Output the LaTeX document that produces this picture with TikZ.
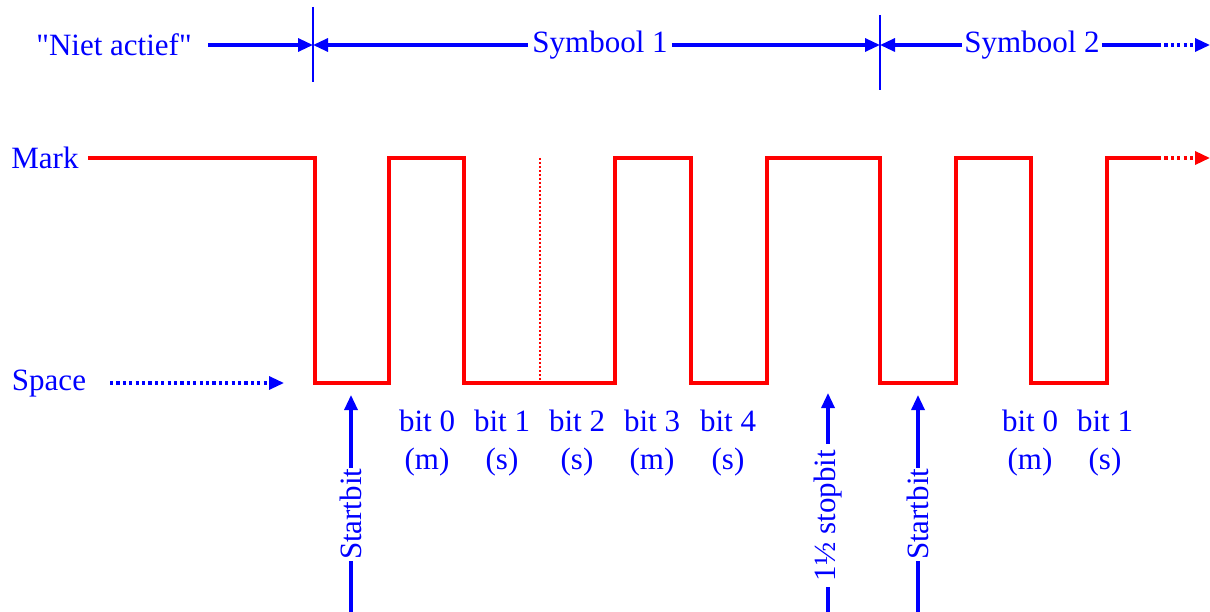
\documentclass[tikz,border=0pt]{standalone}
\usepackage{fontspec}
\setmainfont{Liberation Serif}[Ligatures=TeXOff]
\usetikzlibrary{arrows.meta}
\definecolor{myblue}{RGB}{0,0,255}
\definecolor{myred}{RGB}{255,0,0}
\begin{document}
\begin{tikzpicture}[x=1pt,y=-1pt,
  lbl/.style={text=myblue,font=\fontsize{31}{36}\selectfont,inner sep=0pt},
  bline/.style={draw=myblue,line width=3.2pt},
  dots/.style={dash pattern=on 3.2pt off 3.2pt},
  tick/.style={draw=myblue,line width=1.8pt},
  rline/.style={draw=myred,line width=3.4pt},
  tipb/.style={-{Triangle[length=15pt,width=13pt]}},
  tipbl/.style={{Triangle[length=15pt,width=13pt]}-},
  rot/.style={lbl,rotate=90,fill=white}]
\useasboundingbox (0,0) rectangle (1210,612);

% top ticks
\coordinate (t1a) at (313,7); \coordinate (t1b) at (313,82);
\coordinate (t2a) at (880,15); \coordinate (t2b) at (880,90);
\draw[tick] (t1a) -- (t1b);
\draw[tick] (t2a) -- (t2b);
\coordinate (t1) at (313,45);
\coordinate (t2) at (880,45);

% top labels
\node[lbl] (na) at (114,45) {"Niet actief"};
\node[lbl,inner xsep=4pt] (s1) at (600,45) {Symbool 1};
\node[lbl,inner xsep=2pt] (s2) at (1032,45) {Symbool 2};
\coordinate (naS) at (208,45);
\draw[bline,tipb] (naS) -- (t1);
\draw[bline,tipbl] (t1) -- (s1.west);
\draw[bline,tipb] (s1.east) -- (t2);
\draw[bline,tipbl] (t2) -- (s2.west);
\coordinate (s2m) at (1158,45);
\coordinate (s2e) at (1210,45);
\draw[bline] (s2.east) -- (s2m);
\draw[bline,dots,tipb] (s2m) -- (s2e);

% level labels
\node[lbl] (mark) at (45,158) {Mark};
\node[lbl] (space) at (49,384) {Space};
\coordinate (spA) at (110,383);
\coordinate (spB) at (284,383);
\draw[bline,dots,tipb] (spA) -- (spB);

% waveform
\coordinate (w0) at (88,158);
\draw[rline,line join=miter] (w0) -- (315,158) -- (315,383) -- (389,383) -- (389,158)
  -- (464,158) -- (464,383) -- (615,383) -- (615,158) -- (691,158) -- (691,383)
  -- (767,383) -- (767,158) -- (880,158) -- (880,383) -- (956,383) -- (956,158)
  -- (1031,158) -- (1031,383) -- (1107,383) -- (1107,158) -- (1158,158);
\coordinate (wm) at (1158,158);
\coordinate (we) at (1210,158);
\draw[rline,dots,-{Triangle[length=15pt,width=13pt]}] (wm) -- (we);
\coordinate (da) at (540,158); \coordinate (db) at (540,383);
\draw[draw=myred,line width=1.8pt,dash pattern=on 2pt off 2pt] (da) -- (db);

% bit labels
\foreach \x/\b/\t in {427/0/m,502/1/s,577/2/s,652/3/m,728/4/s,1030/0/m,1105/1/s}{
  \node[lbl] (bit\x) at (\x,421) {bit \b};
  \node[lbl] (par\x) at (\x,462) {(\t)};
}

% vertical arrows
\coordinate (sa1) at (351,612); \coordinate (sa1t) at (351,395);
\draw[bline,tipb] (sa1) -- node[rot,inner xsep=1pt,pos=0.45] (st1) {Startbit} (sa1t);
\coordinate (sa2) at (918,612); \coordinate (sa2t) at (918,395);
\draw[bline,tipb] (sa2) -- node[rot,inner xsep=1pt,pos=0.45] (st2) {Startbit} (sa2t);
\coordinate (sb) at (828,612); \coordinate (sbt) at (828,393);
\draw[bline,tipb] (sb) -- node[rot,inner xsep=6pt,pos=0.44] (stop) {1½ stopbit} (sbt);
\end{tikzpicture}
\end{document}
